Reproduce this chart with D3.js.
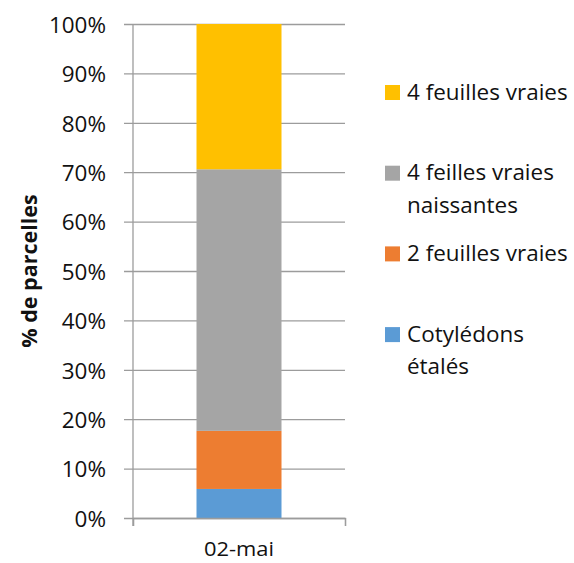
<!DOCTYPE html>
<html>
<head>
<meta charset="utf-8">
<script src="https://cdn.jsdelivr.net/npm/d3@7"></script>
<style>
  html, body { margin: 0; padding: 0; background: #fff; }
  svg { display: block; }
  text { font-family: "Open Sans", "Noto Sans", sans-serif; fill: #111; }
</style>
</head>
<body>
<div id="chart"></div>
<script>
// ---- data ----
const categories = ["02-mai"];
const seriesKeys = ["cotyledons", "deuxFeuilles", "quatreNaissantes", "quatreFeuilles"];
const seriesLabels = [
  ["Cotylédons", "étalés"],
  ["2 feuilles vraies"],
  ["4 feilles vraies", "naissantes"],
  ["4 feuilles vraies"]
];
const seriesColors = ["#5B9BD5", "#ED7D31", "#A5A5A5", "#FFC000"];
const cotyledons = [0.0588];
const deuxFeuilles = [0.1176];
const quatreNaissantes = [0.5295];
const quatreFeuilles = [0.2941];
const yTicks = [0, 0.1, 0.2, 0.3, 0.4, 0.5, 0.6, 0.7, 0.8, 0.9, 1.0];
const yTitle = "% de parcelles";

// ---- build table ----
const seriesValues = { cotyledons, deuxFeuilles, quatreNaissantes, quatreFeuilles };
const table = categories.map((c, i) => {
  const row = { category: c };
  seriesKeys.forEach(k => row[k] = seriesValues[k][i]);
  return row;
});

const W = 574, H = 563;
const SX = 1.07; // horizontal glyph stretch of the reference
const fontSize = 21;
const gridColor = "#9c9c9c";

const svg = d3.select("#chart").append("svg").attr("width", W).attr("height", H);

const plot = { left: 133, right: 345, top: 24, bottom: 518 };

const y = d3.scaleLinear().domain([0, 1]).range([plot.bottom, plot.top]);
const x = d3.scaleBand().domain(categories).range([plot.left, plot.right]).paddingInner(0.4276).paddingOuter(0.4276);

// gridlines + left ticks
const yAxis = d3.axisLeft(y).tickValues(yTicks).tickFormat(d3.format(".0%"))
  .tickSizeInner(-(plot.right - plot.left)).tickSizeOuter(0).tickPadding(0);
const gy = svg.append("g").attr("transform", `translate(${plot.left},0)`).call(yAxis);
gy.select(".domain").remove();
gy.selectAll(".tick line")
  .attr("x1", -9).attr("x2", plot.right - plot.left)
  .attr("stroke", gridColor).attr("stroke-width", 1.3);
gy.selectAll(".tick text")
  .attr("x", null).attr("dy", null)
  .attr("text-anchor", "end")
  .attr("dominant-baseline", "central")
  .attr("transform", `translate(-27,0) scale(${SX},1)`)
  .style("font-size", fontSize + "px")
  .style("font-family", '"Open Sans", sans-serif')
  .attr("fill", "#111");

// bars
const stack = d3.stack().keys(seriesKeys);
const layers = stack(table);
svg.append("g").selectAll("g").data(layers).join("g")
  .attr("fill", (d, i) => seriesColors[i])
  .selectAll("rect").data(d => d).join("rect")
  .attr("x", d => x(d.data.category))
  .attr("width", x.bandwidth())
  .attr("y", d => y(d[1]))
  .attr("height", d => y(d[0]) - y(d[1]));

// y axis line
svg.append("line")
  .attr("x1", plot.left).attr("x2", plot.left)
  .attr("y1", plot.top).attr("y2", plot.bottom + 8)
  .attr("stroke", gridColor).attr("stroke-width", 1.3);
// x axis line + ticks
const xAxis = d3.axisBottom(d3.scaleLinear().domain([0, 1]).range([plot.left, plot.right]))
  .tickValues([0, 1]).tickSize(8).tickFormat("");
const gx = svg.append("g").attr("transform", `translate(0,${plot.bottom})`).call(xAxis);
gx.select(".domain").attr("stroke", gridColor).attr("stroke-width", 1.3);
gx.selectAll(".tick line").attr("stroke", gridColor).attr("stroke-width", 1.3);

// category label
svg.append("g").selectAll("text").data(categories).join("text")
  .attr("transform", d => `translate(${x(d) + x.bandwidth() / 2},556) scale(${SX},1)`)
  .attr("text-anchor", "middle")
  .style("font-size", "20.5px")
  .text(d => d);

// y title
svg.append("text")
  .attr("transform", "translate(37,271) rotate(-90)")
  .attr("text-anchor", "middle")
  .style("font-size", "21.5px")
  .style("font-weight", "bold")
  .text(yTitle);

// legend (top to bottom: reverse of stack order)
const legendOrder = d3.range(seriesKeys.length).reverse();
const lg = svg.append("g");
legendOrder.forEach((si, i) => {
  const top = 85 + i * 80.7;
  lg.append("rect").attr("x", 385).attr("y", top).attr("width", 15).attr("height", 15)
    .attr("fill", seriesColors[si]);
  seriesLabels[si].forEach((line, j) => {
    lg.append("text")
      .attr("transform", `translate(407,${top + 14.5 + j * 32.5}) scale(${SX},1)`)
      .style("font-size", fontSize + "px")
      .text(line);
  });
});
</script>
</body>
</html>
